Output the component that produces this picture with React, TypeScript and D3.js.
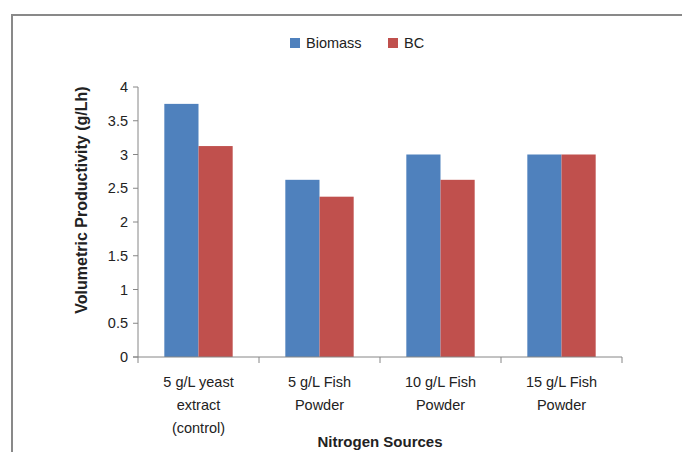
import React, { useEffect, useRef } from "react";
import * as d3 from "d3";

const categories = [
  ["5 g/L yeast", "extract", "(control)"],
  ["5 g/L Fish", "Powder"],
  ["10 g/L Fish", "Powder"],
  ["15 g/L Fish", "Powder"],
];
const seriesNames = ["Biomass", "BC"];
const biomass = [3.75, 2.625, 3.0, 3.0];
const bc = [3.125, 2.375, 2.625, 3.0];
const yTicks = [0, 0.5, 1, 1.5, 2, 2.5, 3, 3.5, 4];
const colors = ["#4F81BD", "#C0504D"];

function App() {
  const svgRef = useRef(null);
  const width = 682;
  const height = 452;
  const margin = { top: 87, right: 60, bottom: 95, left: 138 };
  const font = "'Liberation Sans', Arial, sans-serif";

  useEffect(() => {
    const svg = d3.select(svgRef.current);
    svg.selectAll("*").remove();

    // outer frame (only top and left visible)
    svg
      .append("path")
      .attr("d", `M12,452 V15 H682`)
      .attr("fill", "none")
      .attr("stroke", "#898989")
      .attr("stroke-width", 2);

    const x = d3
      .scaleBand()
      .domain(d3.range(categories.length))
      .range([margin.left, width - margin.right]);
    const y = d3
      .scaleLinear()
      .domain([0, 4])
      .range([height - margin.bottom, margin.top]);
    const inner = d3
      .scaleBand()
      .domain(seriesNames)
      .range([0, x.bandwidth()])
      .paddingOuter(0.77)
      .paddingInner(0);

    const y0 = y(0);

    // y axis
    const gy = svg.append("g");
    gy.append("line")
      .attr("x1", margin.left)
      .attr("x2", margin.left)
      .attr("y1", y(4))
      .attr("y2", y0)
      .attr("stroke", "#868686")
      .attr("stroke-width", 1);
    gy.selectAll(".tick")
      .data(yTicks)
      .join("line")
      .attr("x1", margin.left - 5)
      .attr("x2", margin.left)
      .attr("y1", (d) => y(d))
      .attr("y2", (d) => y(d))
      .attr("stroke", "#868686");
    gy.selectAll("text")
      .data(yTicks)
      .join("text")
      .attr("x", margin.left - 10)
      .attr("y", (d) => y(d))
      .attr("dy", "0.35em")
      .attr("text-anchor", "end")
      .attr("font-family", font)
      .attr("font-size", 14.5)
      .attr("fill", "#222")
      .text((d) => d);

    // bars
    const series = [biomass, bc];
    series.forEach((vals, si) => {
      svg
        .append("g")
        .selectAll("rect")
        .data(vals)
        .join("rect")
        .attr("x", (d, i) => x(i) + inner(seriesNames[si]))
        .attr("y", (d) => y(d))
        .attr("width", inner.bandwidth())
        .attr("height", (d) => y0 - y(d))
        .attr("fill", colors[si]);
    });

    // x axis
    const gx = svg.append("g");
    gx.append("line")
      .attr("x1", margin.left - 5)
      .attr("x2", width - margin.right)
      .attr("y1", y0)
      .attr("y2", y0)
      .attr("stroke", "#868686");
    const edges = d3.range(categories.length + 1).map((i) =>
      i < categories.length ? x(i) : x(i - 1) + x.bandwidth()
    );
    gx.selectAll(".tick")
      .data(edges)
      .join("line")
      .attr("x1", (d) => d)
      .attr("x2", (d) => d)
      .attr("y1", y0)
      .attr("y2", y0 + 6)
      .attr("stroke", "#868686");
    categories.forEach((lines, i) => {
      const t = gx
        .append("text")
        .attr("text-anchor", "middle")
        .attr("font-family", font)
        .attr("font-size", 14.5)
        .attr("fill", "#222");
      lines.forEach((ln, j) => {
        t.append("tspan")
          .attr("x", x(i) + x.bandwidth() / 2)
          .attr("y", 387 + j * 23)
          .text(ln);
      });
    });

    // axis titles
    svg
      .append("text")
      .attr("x", (margin.left + width - margin.right) / 2)
      .attr("y", 447)
      .attr("text-anchor", "middle")
      .attr("font-family", font)
      .attr("font-size", 15)
      .attr("font-weight", "bold")
      .attr("fill", "#222")
      .text("Nitrogen Sources");
    svg
      .append("text")
      .attr("transform", `translate(87,200) rotate(-90)`)
      .attr("text-anchor", "middle")
      .attr("font-family", font)
      .attr("font-size", 16)
      .attr("font-weight", "bold")
      .attr("fill", "#222")
      .text("Volumetric Productivity (g/Lh)");

    // legend
    const legendX = [290, 388];
    seriesNames.forEach((name, i) => {
      const g = svg.append("g").attr("transform", `translate(${legendX[i]},38)`);
      g.append("rect")
        .attr("width", 10)
        .attr("height", 10)
        .attr("fill", colors[i]);
      g.append("text")
        .attr("x", 16)
        .attr("y", 5)
        .attr("dy", "0.35em")
        .attr("font-family", font)
        .attr("font-size", 14.5)
        .attr("fill", "#222")
        .text(name);
    });
  }, []);

  return (
    <svg
      ref={svgRef}
      width={width}
      height={height}
      style={{ position: "absolute", left: 0, top: 0, background: "white" }}
    />
  );
}

export default App;
